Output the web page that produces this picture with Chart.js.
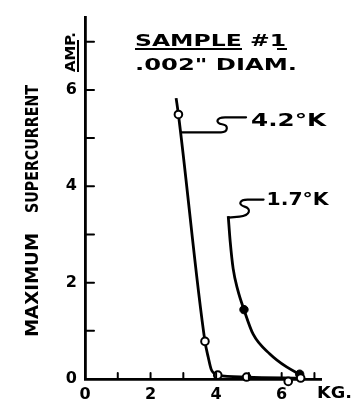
<!DOCTYPE html>
<html>
<head>
<meta charset="utf-8">
<script src="https://cdn.jsdelivr.net/npm/chart.js@4/dist/chart.umd.min.js"></script>
<style>
html,body{margin:0;padding:0;background:#fff;}
#wrap{width:353px;height:402px;}
</style>
</head>
<body>
<div id="wrap"><canvas id="c" width="353" height="402"></canvas></div>
<script>
// ---- data ----
const curve42X = [2.78, 2.85, 3.66, 3.76, 3.85, 3.95, 4.05, 4.93, 6.6];
const curve42Y = [5.83, 5.49, 0.78, 0.45, 0.2, 0.11, 0.08, 0.04, 0.02];
const points42X = [2.85, 3.66, 4.05, 4.93, 6.2, 6.58];
const points42Y = [5.49, 0.78, 0.08, 0.04, -0.05, 0.02];
const curve17X = [4.37, 4.43, 4.52, 4.66, 4.85, 5.13, 5.64, 6.15, 6.55];
const curve17Y = [3.38, 2.85, 2.29, 1.85, 1.44, 0.93, 0.52, 0.25, 0.1];
const points17X = [4.85, 6.55];
const points17Y = [1.44, 0.1];
const xTickValues = [0, 2, 4, 6];
const yTickValues = [0, 2, 4, 6];
const seriesLabels = ['4.2°K', '1.7°K'];
const titleLines = ['SAMPLE #1', '.002" DIAM.'];
const yTitle = ['MAXIMUM', 'SUPERCURRENT'];
const yUnit = 'AMP.';
const xUnit = 'KG.';
// leader anchors on the curves (data units)
const leader42Anchor = [2.93, 5.12];
const leader17Anchor = [4.38, 3.35];

const zip = (xs, ys) => xs.map((x, i) => ({x: x, y: ys[i]}));
const FONT = '"DejaVu Sans", sans-serif';

function fitText(ctx, text, x, y, width, size, rot) {
  ctx.save();
  ctx.font = 'bold ' + size + 'px ' + FONT;
  const m = ctx.measureText(text).width;
  ctx.translate(x, y);
  if (rot) ctx.rotate(rot);
  ctx.scale(width / m, 1);
  ctx.textBaseline = 'alphabetic';
  ctx.textAlign = 'left';
  ctx.fillStyle = '#000';
  ctx.fillText(text, 0, 0);
  ctx.restore();
}

const decor = {
  id: 'decor',
  afterDraw(chart) {
    const ctx = chart.ctx;
    const xs = chart.scales.x, ys = chart.scales.y;
    const ca = chart.chartArea;
    ctx.save();
    ctx.strokeStyle = '#000';
    ctx.lineCap = 'round';
    // inside ticks
    ctx.lineWidth = 2;
    for (let v = 1; v <= 7; v++) {
      const py = ys.getPixelForValue(v);
      ctx.beginPath(); ctx.moveTo(ca.left, py); ctx.lineTo(ca.left + 9, py); ctx.stroke();
      const px = xs.getPixelForValue(v);
      ctx.beginPath(); ctx.moveTo(px, ca.bottom); ctx.lineTo(px, ca.bottom - 6); ctx.stroke();
    }
    // leaders
    ctx.lineWidth = 2.2;
    let ax = xs.getPixelForValue(leader42Anchor[0]), ay = ys.getPixelForValue(leader42Anchor[1]);
    ctx.beginPath();
    ctx.moveTo(ax, ay);
    ctx.lineTo(ax + 40, ay);
    ctx.bezierCurveTo(ax + 47, ay, ax + 48, ay - 7, ax + 41, ay - 8);
    ctx.bezierCurveTo(ax + 34, ay - 9, ax + 35, ay - 15, ax + 44, ay - 15);
    ctx.lineTo(ax + 65, ay - 15);
    ctx.stroke();
    fitText(ctx, seriesLabels[0], ax + 70, ay - 6, 75, 18);
    ax = xs.getPixelForValue(leader17Anchor[0]); ay = ys.getPixelForValue(leader17Anchor[1]);
    ctx.beginPath();
    ctx.moveTo(ax, ay);
    ctx.lineTo(ax + 11, ay - 1);
    ctx.bezierCurveTo(ax + 22, ay - 2, ax + 23, ay - 9, ax + 16, ay - 11);
    ctx.bezierCurveTo(ax + 9, ay - 13, ax + 11, ay - 18, ax + 19, ay - 18);
    ctx.lineTo(ax + 35, ay - 18);
    ctx.stroke();
    fitText(ctx, seriesLabels[1], ax + 38, ay - 13, 62, 18);
    // title
    fitText(ctx, titleLines[0], 135, 46, 151, 15);
    fitText(ctx, titleLines[1], 135, 70, 162, 16);
    ctx.lineWidth = 2;
    ctx.lineCap = 'butt';
    ctx.beginPath(); ctx.moveTo(135, 49); ctx.lineTo(242, 49); ctx.stroke();
    ctx.beginPath(); ctx.moveTo(277, 49); ctx.lineTo(287, 49); ctx.stroke();
    // y title
    fitText(ctx, yTitle[0], 38, 337, 104, 18, -Math.PI / 2);
    fitText(ctx, yTitle[1], 38, 213, 128, 18, -Math.PI / 2);
    fitText(ctx, yUnit, 75, 72, 40, 14, -Math.PI / 2);
    ctx.beginPath(); ctx.moveTo(78, 72); ctx.lineTo(78, 40); ctx.stroke();
    // x unit
    fitText(ctx, xUnit, 317, 398, 35, 15);
    ctx.restore();
  }
};

new Chart(document.getElementById('c'), {
  type: 'line',
  data: {
    datasets: [
      {label: seriesLabels[0] + ' curve', data: zip(curve42X, curve42Y), borderColor: '#000', borderWidth: 2.8,
       pointRadius: 0, cubicInterpolationMode: 'monotone', fill: false, order: 2, clip: false},
      {label: seriesLabels[1] + ' curve', data: zip(curve17X, curve17Y), borderColor: '#000', borderWidth: 2.8,
       pointRadius: 0, cubicInterpolationMode: 'monotone', fill: false, order: 2, clip: false},
      {label: seriesLabels[0], data: zip(points42X, points42Y), showLine: false, pointRadius: 3.8,
       pointBackgroundColor: '#fff', pointBorderColor: '#000', pointBorderWidth: 2, order: 1, clip: false},
      {label: seriesLabels[1], data: zip(points17X, points17Y), showLine: false, pointRadius: 4.2,
       pointBackgroundColor: '#000', pointBorderColor: '#000', pointBorderWidth: 1, order: 1, clip: false}
    ]
  },
  options: {
    responsive: false,
    animation: false,
    events: [],
    layout: {padding: {left: 0, top: 11.5, right: 32, bottom: 0}},
    plugins: {legend: {display: false}, tooltip: {enabled: false}},
    scales: {
      x: {
        type: 'linear', min: 0, max: 7.2,
        grid: {display: false, drawTicks: false},
        border: {display: true, color: '#000', width: 2.8},
        ticks: {stepSize: 1, padding: 6, color: '#000', font: {family: FONT, size: 16, weight: 'bold'},
                autoSkip: false, maxRotation: 0,
                callback: v => xTickValues.includes(v) ? String(v) : ''},
        afterFit: s => { s.height = 23; }
      },
      y: {
        type: 'linear', min: 0, max: 7.5,
        grid: {display: false, drawTicks: false},
        border: {display: true, color: '#000', width: 2.8},
        ticks: {stepSize: 1, padding: 8, color: '#000', font: {family: FONT, size: 16, weight: 'bold'},
                autoSkip: false,
                callback: v => yTickValues.includes(v) ? String(v) : ''},
        afterFit: s => { s.width = 85; }
      }
    }
  },
  plugins: [decor]
});
</script>
</body>
</html>
